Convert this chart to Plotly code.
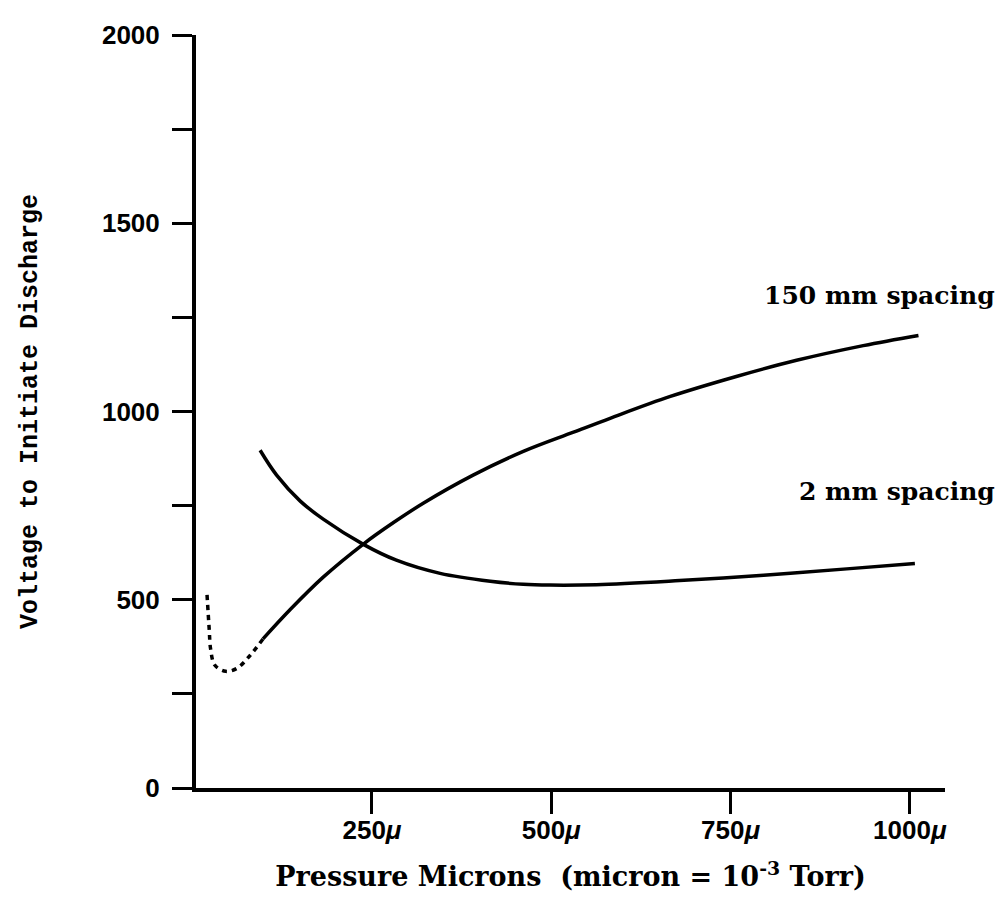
import plotly.graph_objects as go

# 150 mm spacing curve: dotted low-pressure part, then solid
p150_dot_x = [20, 23, 25, 31, 46, 61, 80, 98]
p150_dot_y = [513, 422, 369, 326, 310, 317, 352, 396]
p150_x = [98, 136, 182, 238, 280, 322, 391, 461, 531, 582, 666, 758, 842, 935, 1012]
p150_y = [396, 474, 560, 648, 705, 757, 831, 894, 945, 982, 1040, 1093, 1136, 1175, 1202]

# 2 mm spacing curve
p2_x = [94, 117, 150, 182, 238, 284, 345, 415, 461, 498, 563, 679, 796, 912, 1007]
p2_y = [897, 831, 762, 714, 647, 605, 570, 549, 541, 539, 540, 551, 565, 582, 596]

x_ticks = [250, 500, 750, 1000]
x_ticktext = ["250<i>μ</i>", "500<i>μ</i>", "750<i>μ</i>", "1000<i>μ</i>"]
y_ticks = [0, 500, 1000, 1500, 2000]
y_ticktext = ["0", "500", "1000", "1500", "2000"]

fig = go.Figure()
fig.add_trace(go.Scatter(x=p150_dot_x, y=p150_dot_y, mode="lines",
                         line=dict(color="black", width=3.5, dash="5px,5px", shape="spline"),
                         showlegend=False))
fig.add_trace(go.Scatter(x=p150_x, y=p150_y, mode="lines",
                         line=dict(color="black", width=3.5, shape="spline"),
                         showlegend=False))
fig.add_trace(go.Scatter(x=p2_x, y=p2_y, mode="lines",
                         line=dict(color="black", width=3.5, shape="spline"),
                         showlegend=False))

label_font = dict(family="DejaVu Serif", size=25, color="black", weight="bold")
fig.add_annotation(x=1.0694, y=0.6536, xref="paper", yref="paper", text="150 mm spacing",
                   showarrow=False, xanchor="right", yanchor="middle", font=label_font)
fig.add_annotation(x=1.0694, y=0.3935, xref="paper", yref="paper", text="2 mm spacing",
                   showarrow=False, xanchor="right", yanchor="middle", font=label_font)

tick_font = dict(family="Liberation Sans", size=26, color="black", weight="bold")

fig.update_layout(
    width=1005, height=905,
    margin=dict(l=188, r=68, t=15, b=125),
    paper_bgcolor="white", plot_bgcolor="white",
    xaxis=dict(range=[4.6, 1049], showgrid=False, zeroline=False,
               showline=True, linecolor="black", linewidth=4,
               tickmode="array", tickvals=x_ticks, ticktext=x_ticktext,
               ticks="outside", ticklen=22, tickwidth=3, tickcolor="black",
               ticklabelstandoff=-6,
               tickfont=tick_font,
               title=dict(text="Pressure Microns  (micron = 10<sup><b>-3</b></sup> Torr)",
                          font=dict(family="DejaVu Serif", size=27, color="black", weight="bold"),
                          standoff=24)),
    yaxis=dict(range=[0, 2000], showgrid=False, zeroline=False,
               showline=True, linecolor="black", linewidth=4,
               tickmode="array", tickvals=y_ticks, ticktext=y_ticktext,
               ticks="outside", ticklen=20, tickwidth=3, tickcolor="black",
               minor=dict(ticks="outside", ticklen=20, tickwidth=3, tickcolor="black",
                          tick0=0, dtick=250, showgrid=False),
               ticklabelstandoff=7,
               tickfont=tick_font,
               title=dict(text="Voltage to Initiate Discharge",
                          font=dict(family="Liberation Mono", size=25, color="black", weight="bold"),
                          standoff=58)),
)

fig.write_html("out.html")
